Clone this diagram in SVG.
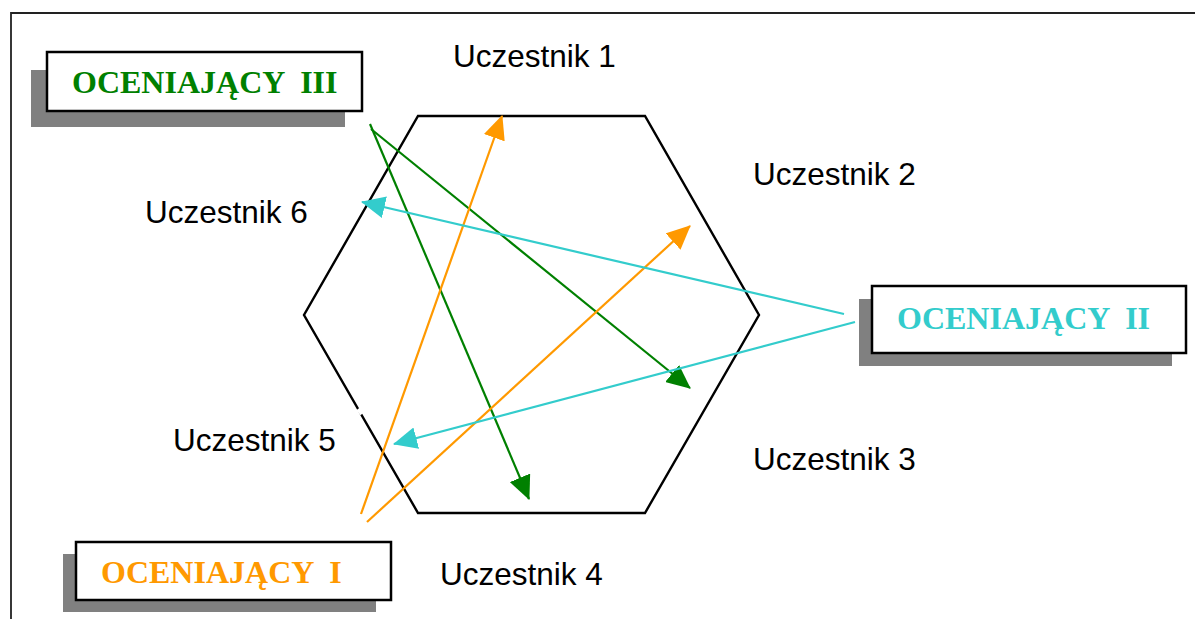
<svg xmlns="http://www.w3.org/2000/svg" width="1195" height="619" viewBox="0 0 1195 619">
<style>
.lbl{font-family:"Liberation Sans",Arial,sans-serif;font-size:31.5px;fill:#000}
.box{fill:#fff;stroke:#000;stroke-width:2.5}
.sh{fill:#808080}
.bt{font-family:"Liberation Serif","Times New Roman",serif;font-size:32px;font-weight:bold;white-space:pre}
.g{stroke:#008000;stroke-width:2.2;fill:none}
.o{stroke:#FF9900;stroke-width:2.2;fill:none}
.c{stroke:#33CCCC;stroke-width:2.2;fill:none}
</style>
<defs>
<marker id="mg" viewBox="0 0 24 22" refX="23" refY="11" markerWidth="24" markerHeight="22" markerUnits="userSpaceOnUse" orient="auto"><path d="M0,0 L24,11 L0,22 z" fill="#008000"/></marker>
<marker id="mo" viewBox="0 0 24 22" refX="23" refY="11" markerWidth="24" markerHeight="22" markerUnits="userSpaceOnUse" orient="auto"><path d="M0,0 L24,11 L0,22 z" fill="#FF9900"/></marker>
<marker id="mc" viewBox="0 0 24 22" refX="23" refY="11" markerWidth="24" markerHeight="22" markerUnits="userSpaceOnUse" orient="auto"><path d="M0,0 L24,11 L0,22 z" fill="#33CCCC"/></marker>
</defs>
<rect width="1195" height="619" fill="#fff"/>
<path d="M11,619 L11,13 L1195,13" fill="none" stroke="#222" stroke-width="1.8"/>
<g id="hexagon">
<polygon points="418,116 645,116 759,315 645,513 418,513 304,315" fill="none" stroke="#000" stroke-width="2.4"/>
<line x1="358" y1="409" x2="362" y2="414" stroke="#fff" stroke-width="4"/>
</g>
<g id="u1"><text class="lbl" x="453" y="67">Uczestnik 1</text></g>
<g id="u2"><text class="lbl" x="753" y="185">Uczestnik 2</text></g>
<g id="u3"><text class="lbl" x="753" y="470">Uczestnik 3</text></g>
<g id="u4"><text class="lbl" x="440" y="585">Uczestnik 4</text></g>
<g id="u5"><text class="lbl" x="173" y="451">Uczestnik 5</text></g>
<g id="u6"><text class="lbl" x="145" y="223">Uczestnik 6</text></g>
<g id="oceniajacy3">
<rect class="sh" x="31" y="70" width="314" height="57"/>
<rect class="box" x="47" y="52" width="315" height="59"/>
<text class="bt" x="72" y="93" fill="#008000">OCENIAJĄCY  III</text>
</g>
<g id="oceniajacy2">
<rect class="sh" x="859" y="299" width="313" height="67"/>
<rect class="box" x="872" y="286" width="314" height="67"/>
<text class="bt" x="897" y="329" fill="#33CCCC">OCENIAJĄCY  II</text>
</g>
<g id="oceniajacy1">
<rect class="sh" x="63" y="554" width="313" height="58"/>
<rect class="box" x="76" y="542" width="315" height="58"/>
<text class="bt" x="101" y="583" fill="#FF9900">OCENIAJĄCY  I</text>
</g>
<g id="connectors">
<line class="g" x1="370" y1="124" x2="529" y2="499" marker-end="url(#mg)"/>
<line class="g" x1="371" y1="129" x2="690" y2="388" marker-end="url(#mg)"/>
<line class="o" x1="361" y1="514" x2="502" y2="116" marker-end="url(#mo)"/>
<line class="o" x1="367" y1="522" x2="690" y2="226" marker-end="url(#mo)"/>
<line class="c" x1="844" y1="314" x2="362" y2="202" marker-end="url(#mc)"/>
<line class="c" x1="855" y1="322" x2="394" y2="444" marker-end="url(#mc)"/>
</g>
</svg>
